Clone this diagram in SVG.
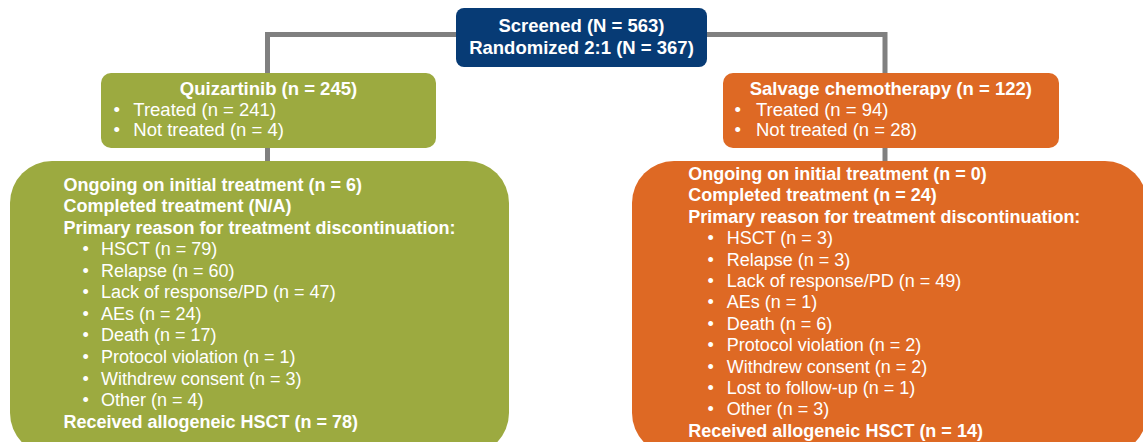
<svg xmlns="http://www.w3.org/2000/svg" width="1143" height="442" viewBox="0 0 1143 442">
<style>
.t{font-family:"Liberation Sans",Arial,sans-serif;fill:#fff;font-size:18px}
.b{font-weight:bold}
.h{font-size:18.5px}
.c{text-anchor:middle}
.conn{stroke:#808080;stroke-width:5;fill:none}
</style>
<rect width="1143" height="442" fill="#fff"/>
<g id="connectors">
<path class="conn" d="M267.5,75 V34.5 H885 V75"/>
<path class="conn" d="M267.5,146 V163"/>
<path class="conn" d="M885,146 V163"/>
</g>
<g id="screened">
<rect x="456" y="8" width="251" height="59" rx="8" fill="#073b75"/>
<text class="t b h c" x="581.5" y="32">Screened (N = 563)</text>
<text class="t b h c" x="581.5" y="54">Randomized 2:1 (N = 367)</text>
</g>
<g id="quizartinib">
<rect x="101" y="73" width="335" height="75" rx="10" fill="#9caa40"/>
<text class="t b h c" x="268.5" y="95">Quizartinib (n = 245)</text>
<text class="t h" x="113.5" y="115.7">•</text>
<text class="t h" x="133.3" y="115.7">Treated (n = 241)</text>
<text class="t h" x="113.5" y="136">•</text>
<text class="t h" x="133.3" y="136">Not treated (n = 4)</text>
</g>
<g id="salvage">
<rect x="723" y="73" width="336" height="75" rx="10" fill="#de6924"/>
<text class="t b h c" x="890.8" y="95">Salvage chemotherapy (n = 122)</text>
<text class="t h" x="734.5" y="115.7">•</text>
<text class="t h" x="756" y="115.7">Treated (n = 94)</text>
<text class="t h" x="734.5" y="136">•</text>
<text class="t h" x="756" y="136">Not treated (n = 28)</text>
</g>
<g id="quizartinib-outcomes">
<rect x="10" y="161" width="499" height="294" rx="42" fill="#9caa40"/>
<text class="t b" x="63.5" y="190.5">Ongoing on initial treatment (n = 6)</text>
<text class="t b" x="63.5" y="212">Completed treatment (N/A)</text>
<text class="t b" x="63.5" y="233.6">Primary reason for treatment discontinuation:</text>
<g class="t">
<text x="82.5" y="255.2">•</text><text x="101" y="255.2">HSCT (n = 79)</text>
<text x="82.5" y="276.7">•</text><text x="101" y="276.7">Relapse (n = 60)</text>
<text x="82.5" y="298.3">•</text><text x="101" y="298.3">Lack of response/PD (n = 47)</text>
<text x="82.5" y="319.8">•</text><text x="101" y="319.8">AEs (n = 24)</text>
<text x="82.5" y="341.4">•</text><text x="101" y="341.4">Death (n = 17)</text>
<text x="82.5" y="362.9">•</text><text x="101" y="362.9">Protocol violation (n = 1)</text>
<text x="82.5" y="384.5">•</text><text x="101" y="384.5">Withdrew consent (n = 3)</text>
<text x="82.5" y="406">•</text><text x="101" y="406">Other (n = 4)</text>
</g>
<text class="t b" x="63.5" y="427.6">Received allogeneic HSCT (n = 78)</text>
</g>
<g id="salvage-outcomes">
<rect x="632" y="161" width="515" height="294" rx="42" fill="#de6924"/>
<text class="t b" x="688.3" y="180">Ongoing on initial treatment (n = 0)</text>
<text class="t b" x="688.3" y="201.4">Completed treatment (n = 24)</text>
<text class="t b" x="688.3" y="222.8">Primary reason for treatment discontinuation:</text>
<g class="t">
<text x="707.5" y="244.2">•</text><text x="726.7" y="244.2">HSCT (n = 3)</text>
<text x="707.5" y="265.6">•</text><text x="726.7" y="265.6">Relapse (n = 3)</text>
<text x="707.5" y="287">•</text><text x="726.7" y="287">Lack of response/PD (n = 49)</text>
<text x="707.5" y="308.4">•</text><text x="726.7" y="308.4">AEs (n = 1)</text>
<text x="707.5" y="329.8">•</text><text x="726.7" y="329.8">Death (n = 6)</text>
<text x="707.5" y="351.2">•</text><text x="726.7" y="351.2">Protocol violation (n = 2)</text>
<text x="707.5" y="372.6">•</text><text x="726.7" y="372.6">Withdrew consent (n = 2)</text>
<text x="707.5" y="394">•</text><text x="726.7" y="394">Lost to follow-up (n = 1)</text>
<text x="707.5" y="415.4">•</text><text x="726.7" y="415.4">Other (n = 3)</text>
</g>
<text class="t b" x="688.3" y="436.8">Received allogeneic HSCT (n = 14)</text>
</g>
</svg>
